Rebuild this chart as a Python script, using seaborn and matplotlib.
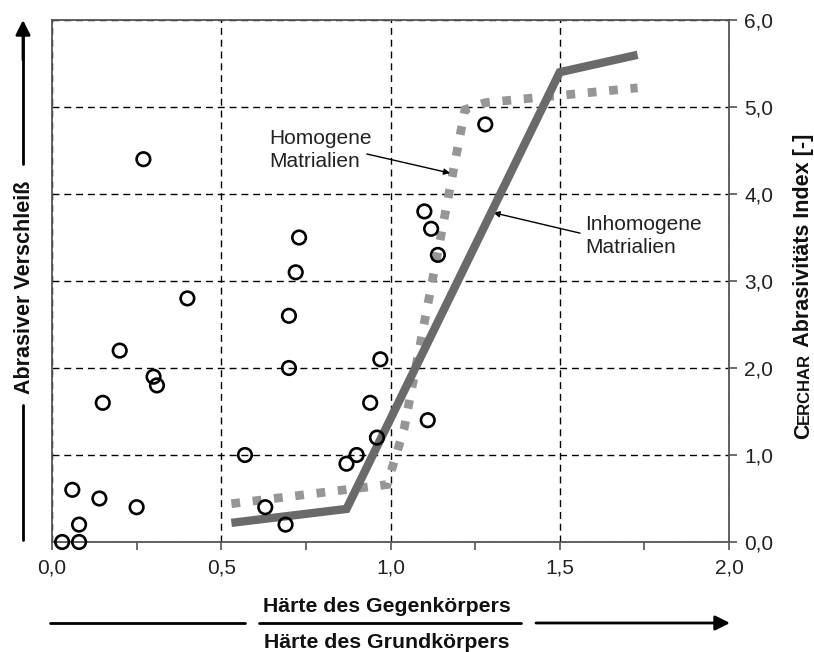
import matplotlib
matplotlib.use("Agg")
import matplotlib.pyplot as plt
import seaborn as sns
import pandas as pd
from matplotlib import font_manager
from matplotlib.ticker import FixedLocator, FuncFormatter
from matplotlib.lines import Line2D
from matplotlib.patches import FancyArrowPatch

# Hardness ratio (x) vs. CERCHAR abrasivity index (y) for the individual samples
haerte_verhaeltnis = [0.03, 0.08, 0.08, 0.06, 0.14, 0.25, 0.15, 0.20, 0.30, 0.31,
                      0.40, 0.27, 0.57, 0.63, 0.69, 0.70, 0.70, 0.72, 0.73, 0.87,
                      0.90, 0.96, 0.94, 0.97, 1.10, 1.12, 1.14, 1.11, 1.28]
cai_werte = [0.0, 0.0, 0.2, 0.6, 0.5, 0.4, 1.6, 2.2, 1.9, 1.8,
             2.8, 4.4, 1.0, 0.4, 0.2, 2.0, 2.6, 3.1, 3.5, 0.9,
             1.0, 1.2, 1.6, 2.1, 3.8, 3.6, 3.3, 1.4, 4.8]

# Schematic wear curves
homogen_x = [0.53, 0.99, 1.04, 1.22, 1.28, 1.73]
homogen_y = [0.44, 0.66, 1.30, 4.97, 5.05, 5.22]
inhomogen_x = [0.53, 0.87, 1.50, 1.73]
inhomogen_y = [0.22, 0.38, 5.40, 5.60]

x_ticks = [0.0, 0.5, 1.0, 1.5, 2.0]
x_minor = [0.25, 0.75, 1.25, 1.75]
y_ticks = [0, 1, 2, 3, 4, 5, 6]

sns.set_theme(style="white")

avail = {f.name for f in font_manager.fontManager.ttflist}
def pick(*names):
    for n in names:
        if n in avail:
            return n
    return "DejaVu Sans"

regular = pick("Liberation Sans", "Arial", "DejaVu Sans")
plt.rcParams["font.family"] = [regular, "DejaVu Sans"]

W, H = 814, 652
fig = plt.figure(figsize=(W / 100, H / 100), dpi=100)
fx = lambda px: px / W
fy = lambda py: 1 - py / H
ax = fig.add_axes([fx(52), fy(542), fx(729) - fx(52), fy(20) - fy(542)])

punkte = pd.DataFrame({"haerte": haerte_verhaeltnis, "cai": cai_werte})
homogen = pd.DataFrame({"x": homogen_x, "y": homogen_y})
inhomogen = pd.DataFrame({"x": inhomogen_x, "y": inhomogen_y})

sns.lineplot(data=homogen, x="x", y="y", sort=False, estimator=None, ax=ax,
             color="#969696", linewidth=6.3, linestyle=(0, (1, 1.45)),
             dash_capstyle="butt", dash_joinstyle="miter", zorder=3)
sns.lineplot(data=inhomogen, x="x", y="y", sort=False, estimator=None, ax=ax,
             color="#6a6a6a", linewidth=6.0, solid_capstyle="butt",
             solid_joinstyle="miter", zorder=4)
sns.scatterplot(data=punkte, x="haerte", y="cai", ax=ax, s=95, marker="o",
                color="black", facecolor="none", edgecolor="black",
                linewidth=1.9, zorder=6, clip_on=False)

ax.set_xlim(0, 2)
ax.set_ylim(0, 6)
ax.set_xlabel("")
ax.set_ylabel("")

# axes frame
for sp in ax.spines.values():
    sp.set_visible(True)
    sp.set_color("#555555")
    sp.set_linewidth(1.3)

ax.xaxis.set_major_locator(FixedLocator(x_ticks))
ax.xaxis.set_minor_locator(FixedLocator(x_minor))
ax.yaxis.set_major_locator(FixedLocator(y_ticks))
komma = FuncFormatter(lambda v, p: f"{v:.1f}".replace(".", ","))
ax.xaxis.set_major_formatter(komma)
ax.yaxis.set_major_formatter(komma)
ax.yaxis.tick_right()
ax.tick_params(axis="x", which="both", direction="out", length=6, width=1.2,
               color="#555555", bottom=True, top=False, pad=6,
               labelsize=15, labelcolor="#222222")
ax.tick_params(axis="y", which="major", direction="out", length=6, width=1.2,
               color="#555555", right=True, left=False, pad=5,
               labelsize=15, labelcolor="#222222")

ax.grid(True, which="major", color="black", linewidth=1.0,
        linestyle=(0, (5, 3.5)))
ax.set_axisbelow(True)

# labels of the two curves with their leader arrows
ax.text(0.641, 4.506, "Homogene\nMatrialien", ha="left", va="center",
        fontsize=15, color="#222222", linespacing=1.3)
ax.annotate("", xy=(1.176, 4.24), xytext=(0.930, 4.46),
            arrowprops=dict(arrowstyle="-|>", color="black", lw=1.0,
                            mutation_scale=9, shrinkA=0, shrinkB=0))
ax.text(1.575, 3.517, "Inhomogene\nMatrialien", ha="left", va="center",
        fontsize=15, color="#222222", linespacing=1.3)
ax.annotate("", xy=(1.304, 3.785), xytext=(1.56, 3.55),
            arrowprops=dict(arrowstyle="-|>", color="black", lw=1.0,
                            mutation_scale=9, shrinkA=0, shrinkB=0))

# left schematic axis: "Abrasiver Verschleiß" with upward arrow
fig.text(fx(25), fy(287), "Abrasiver Verschleiß", rotation=90, ha="center",
         va="center", fontsize=15.5, fontweight="bold", color="#111111")
fig.add_artist(Line2D([fx(23), fx(23)], [fy(540), fy(405)],
                      transform=fig.transFigure, color="black", lw=2.0))
fig.add_artist(Line2D([fx(23), fx(23)], [fy(164), fy(34)],
                      transform=fig.transFigure, color="black", lw=2.0))
fig.add_artist(FancyArrowPatch(
    (fx(23), fy(60)), (fx(23), fy(20)), transform=fig.transFigure,
    arrowstyle="-|>", mutation_scale=22, color="black", lw=2.0,
    shrinkA=0, shrinkB=0))

# bottom schematic axis: hardness ratio with arrow
fig.text(fx(387), fy(607), "Härte des Gegenkörpers", ha="center", va="center",
         fontsize=15.3, fontweight="bold", color="#111111")
fig.text(fx(387), fy(642), "Härte des Grundkörpers", ha="center", va="center",
         fontsize=15.3, fontweight="bold", color="#111111")
fig.add_artist(Line2D([fx(50), fx(245)], [fy(623), fy(623)],
                      transform=fig.transFigure, color="black", lw=2.0))
fig.add_artist(Line2D([fx(259), fx(521)], [fy(623), fy(623)],
                      transform=fig.transFigure, color="black", lw=2.0))
fig.add_artist(FancyArrowPatch(
    (fx(536), fy(623)), (fx(730), fy(623)), transform=fig.transFigure,
    arrowstyle="-|>", mutation_scale=22, color="black", lw=2.0,
    shrinkA=0, shrinkB=0))

# right axis title with small caps "CERCHAR", pieces share one baseline
teile = [("C", 15.5), ("ERCHAR", 12.0), (" Abrasivitäts Index [-]", 15.5)]
basis_x = fx(809)
start_y = fy(439) * H  # pixels from bottom
fig.canvas.draw()
r = fig.canvas.get_renderer()
for txt, size in teile:
    t = fig.text(basis_x, start_y / H, txt, rotation=90, rotation_mode="anchor",
                 ha="left", va="baseline", fontsize=size, fontweight="bold",
                 color="#111111")
    bb = t.get_window_extent(r)
    start_y += bb.height

fig.savefig("out.png", dpi=100)
